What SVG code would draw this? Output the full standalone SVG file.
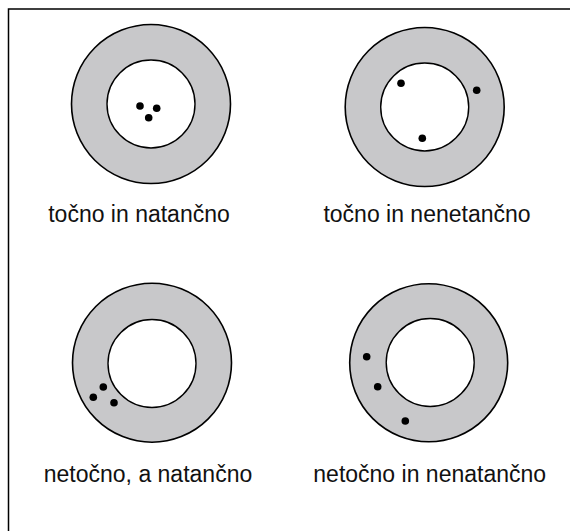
<svg xmlns="http://www.w3.org/2000/svg" width="570" height="531" viewBox="0 0 570 531">
<style>
.outer{fill:#c8c8ca;stroke:#000;stroke-width:1.6}
.inner{fill:#fff;stroke:#000;stroke-width:1.4}
.dot{fill:#000}
.lbl{font-family:"Liberation Sans",Arial,sans-serif;font-size:23px;fill:#111;text-anchor:middle}
</style>
<rect x="0" y="0" width="570" height="531" fill="#fff"/>
<rect x="8.5" y="9" width="600" height="560" fill="none" stroke="#000" stroke-width="1.5"/>
<g id="target1">
<circle class="outer" cx="151" cy="104" r="79.5"/>
<circle class="inner" cx="151" cy="104" r="44"/>
<circle class="dot" cx="140" cy="106" r="3.8"/>
<circle class="dot" cx="156.7" cy="108.3" r="3.8"/>
<circle class="dot" cx="148.7" cy="117.7" r="3.8"/>
<text class="lbl" x="139" y="222">točno in natančno</text>
</g>
<g id="target2">
<circle class="outer" cx="424.7" cy="107" r="79.5"/>
<circle class="inner" cx="424.7" cy="107" r="44"/>
<circle class="dot" cx="401" cy="83.3" r="3.8"/>
<circle class="dot" cx="476.7" cy="90.3" r="3.8"/>
<circle class="dot" cx="422.3" cy="138.3" r="3.8"/>
<text class="lbl" x="427" y="222">točno in nenetančno</text>
</g>
<g id="target3">
<circle class="outer" cx="152" cy="362.7" r="79.5"/>
<circle class="inner" cx="152" cy="363.5" r="44"/>
<circle class="dot" cx="93.3" cy="397.3" r="3.8"/>
<circle class="dot" cx="103.3" cy="387" r="3.8"/>
<circle class="dot" cx="114" cy="402.7" r="3.8"/>
<text class="lbl" x="148" y="482">netočno, a natančno</text>
</g>
<g id="target4">
<circle class="outer" cx="428.7" cy="362.8" r="79"/>
<circle class="inner" cx="430.2" cy="362.5" r="44"/>
<circle class="dot" cx="366.7" cy="356.7" r="3.8"/>
<circle class="dot" cx="377.7" cy="386.7" r="3.8"/>
<circle class="dot" cx="405.3" cy="421" r="3.8"/>
<text class="lbl" x="429.7" y="482">netočno in nenatančno</text>
</g>
<g id="connectors"/>
</svg>
